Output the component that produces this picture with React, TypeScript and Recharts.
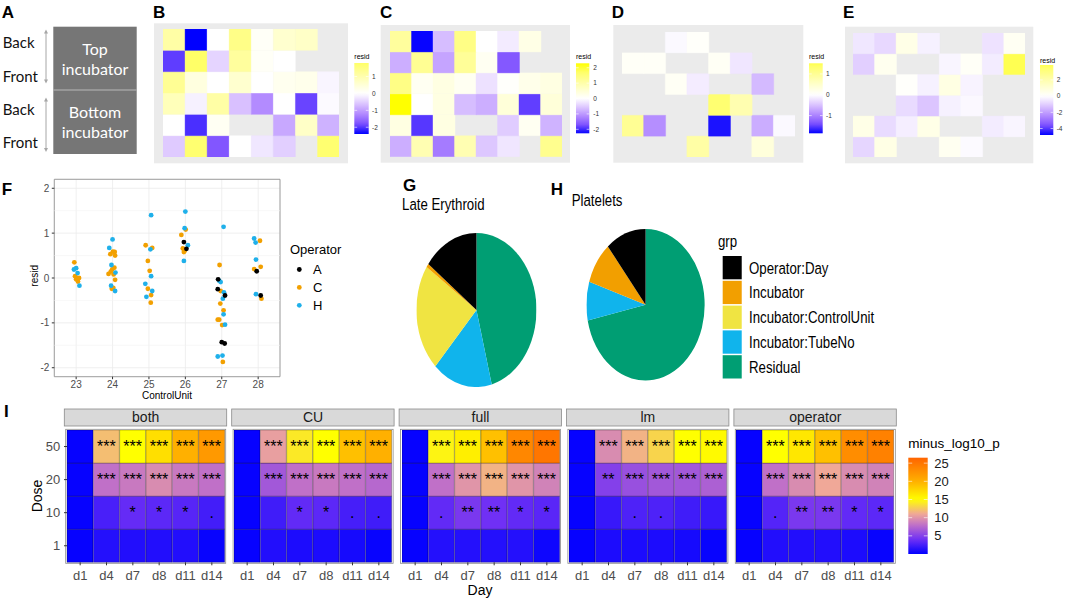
import {
  Bar,
  BarChart,
  CartesianGrid,
  Cell,
  LabelList,
  Pie,
  PieChart,
  ReferenceArea,
  ReferenceLine,
  Scatter,
  ScatterChart,
  XAxis,
  YAxis,
} from "recharts";

const FONT = '"Liberation Sans", Arial, sans-serif';
const AXIS_GREY = "#4d4d4d";
const PANEL_BG = "#ebebeb";

// ---- B-E: residual per tube position, rows back->front, null = no tube
const POSITIONS = ["1", "2", "3", "4", "5", "6", "7", "8"];

const RESID_B = [
  [1.1, -2.4, 0.0, 1.45, 0.1, 0.6, 0.7, null],
  [-1.95, 1.8, -0.45, 1.2, 0.1, 0.0, null, null],
  [1.3, 0.4, 0.0, 0.6, 0.0, 0.2, 0.25, -0.1],
  [0.85, -0.15, 1.1, -0.65, -1.2, 0.0, -1.9, -0.05],
  [0.0, -2.05, 0.15, null, null, -0.9, 0.7, -0.8],
  [-0.55, 1.7, -1.75, 0.0, -0.25, -0.5, null, 1.7],
];
const RESID_C = [
  [1.15, -2.26, -0.65, 1.4, 0.0, -0.2, 0.3, null],
  [-0.8, 1.25, -0.9, 1.2, 0.15, -1.65, null, null],
  [1.4, 0.15, 0.35, 0.15, -0.3, 0.05, 0.25, 0.35],
  [2.29, 0.0, 0.35, -0.65, -0.8, 0.45, -1.85, 0.45],
  [0.35, -1.9, 0.35, null, null, -0.5, 0.15, -0.75],
  [-0.8, 0.9, -1.3, 0.9, -0.55, -0.25, null, 1.3],
];
const RESID_D = [
  [null, null, -0.05, 0.05, null, null, null, null],
  [0.08, 0.08, null, null, 0.1, -0.2, null, null],
  [null, null, 0.1, -0.15, null, null, -0.55, null],
  [null, null, null, null, 1.3, 0.75, null, null],
  [1.0, -0.9, null, null, -1.75, null, -0.65, -0.05],
  [null, null, null, 0.85, null, null, 0.35, null],
];
const RESID_E = [
  [-0.5, -0.8, 0.6, -0.3, null, null, -0.6, 0.3],
  [-1.0, 0.4, null, null, -0.2, 0.2, -0.4, 3.85],
  [null, null, 0.1, -0.3, 0.7, -0.25, null, null],
  [null, null, -0.75, -1.2, -0.3, -0.15, null, null],
  [0.6, -0.75, -0.35, 0.6, null, null, -0.4, -0.2],
  [-0.85, 0.65, null, null, 0.35, -0.1, null, null],
];

const RANGE_B = [-2.4, 1.8];
const RANGE_C = [-2.26, 2.29];
const RANGE_D = [-1.85, 1.51];
const RANGE_E = [-4.8, 3.85];
const TICKS_B = [1, 0, -1, -2];
const TICKS_C = [2, 1, 0, -1, -2];
const TICKS_D = [1, 0, -1];
const TICKS_E = [2, 0, -2, -4];

// ---- F: residual by control unit (x jittered)
const CONTROL_UNITS = [23, 24, 25, 26, 27, 28];
const RESID_TICKS = [-2, -1, 0, 1, 2];
const RESID_MINOR = [-1.5, -0.5, 0.5, 1.5];

const OP_A = [
  { cu: 25.96, resid: 0.8 }, { cu: 26.03, resid: 0.65 },
  { cu: 26.9, resid: -0.03 }, { cu: 26.89, resid: -0.25 }, { cu: 27.09, resid: -0.39 },
  { cu: 27.0, resid: -1.43 }, { cu: 27.08, resid: -1.46 },
  { cu: 27.96, resid: 0.15 }, { cu: 28.07, resid: -0.39 },
];
const OP_C = [
  { cu: 22.95, resid: 0.35 }, { cu: 22.97, resid: 0.04 }, { cu: 23.02, resid: 0.0 },
  { cu: 23.08, resid: 0.0 }, { cu: 23.05, resid: -0.08 }, { cu: 23.0, resid: -0.03 },
  { cu: 24.01, resid: 0.59 }, { cu: 23.94, resid: 0.53 }, { cu: 24.06, resid: 0.58 },
  { cu: 24.07, resid: 0.5 }, { cu: 24.05, resid: 0.23 }, { cu: 23.99, resid: 0.19 },
  { cu: 23.89, resid: 0.09 }, { cu: 23.95, resid: 0.14 }, { cu: 24.03, resid: 0.08 },
  { cu: 24.07, resid: -0.04 }, { cu: 24.02, resid: -0.22 }, { cu: 23.98, resid: -0.24 },
  { cu: 24.91, resid: 0.73 }, { cu: 25.09, resid: 0.67 }, { cu: 24.97, resid: 0.38 },
  { cu: 25.02, resid: 0.16 }, { cu: 24.97, resid: -0.24 }, { cu: 25.06, resid: -0.38 },
  { cu: 25.05, resid: -0.55 },
  { cu: 26.01, resid: 1.08 }, { cu: 25.89, resid: 0.96 }, { cu: 25.93, resid: 0.66 },
  { cu: 25.98, resid: 0.61 }, { cu: 25.96, resid: 0.58 },
  { cu: 26.94, resid: 0.29 }, { cu: 26.97, resid: -0.29 }, { cu: 26.96, resid: -0.57 },
  { cu: 27.05, resid: -0.72 }, { cu: 26.89, resid: -0.93 }, { cu: 26.93, resid: -0.93 },
  { cu: 27.01, resid: -1.05 }, { cu: 27.03, resid: -1.87 },
  { cu: 28.05, resid: 0.83 }, { cu: 28.07, resid: 0.25 }, { cu: 27.89, resid: 0.2 },
  { cu: 28.09, resid: -0.46 },
];
const OP_H = [
  { cu: 22.94, resid: 0.19 }, { cu: 23.0, resid: 0.22 }, { cu: 23.04, resid: 0.11 },
  { cu: 23.09, resid: -0.17 },
  { cu: 24.0, resid: 0.86 }, { cu: 23.91, resid: 0.67 }, { cu: 23.97, resid: 0.29 },
  { cu: 24.08, resid: 0.12 }, { cu: 23.96, resid: -0.17 }, { cu: 24.07, resid: -0.29 },
  { cu: 25.06, resid: 1.4 }, { cu: 25.04, resid: 0.64 }, { cu: 25.06, resid: 0.04 },
  { cu: 24.9, resid: -0.13 }, { cu: 25.09, resid: -0.29 }, { cu: 24.93, resid: -0.42 },
  { cu: 26.0, resid: 1.48 }, { cu: 25.98, resid: 1.11 }, { cu: 26.07, resid: 0.73 },
  { cu: 25.96, resid: 0.38 },
  { cu: 27.05, resid: 1.14 }, { cu: 26.93, resid: -0.06 }, { cu: 26.97, resid: -0.09 },
  { cu: 27.06, resid: -0.32 }, { cu: 27.03, resid: -0.46 }, { cu: 27.05, resid: -0.81 },
  { cu: 27.09, resid: -1.04 }, { cu: 26.89, resid: -1.75 }, { cu: 27.02, resid: -1.73 },
  { cu: 27.89, resid: 0.88 }, { cu: 27.93, resid: 0.79 }, { cu: 27.94, resid: 0.41 },
  { cu: 27.94, resid: -0.36 },
];
const OPERATORS = ["A", "C", "H"];
const OPERATOR_COLORS = ["#000000", "#F2A000", "#1FB0EA"];

// ---- G/H: variance components (%)
const GROUPS = ["Operator:Day", "Incubator", "Incubator:ControlUnit", "Incubator:TubeNo", "Residual"];
const GROUP_COLORS = ["#000000", "#F29F00", "#F0E442", "#10B4EC", "#009E73"];
const LATE_ERYTHROID = [14.8, 0.8, 22.4, 16.1, 45.9];
const PLATELETS = [11.0, 9.1, 0, 8.2, 71.7];

// ---- I: -log10 p by model, rows dose 50/20/10/1, columns day
const DAYS = ["d1", "d4", "d7", "d8", "d11", "d14"];
const DOSES = ["50", "20", "10", "1"];
const MODELS = ["both", "CU", "full", "lm", "operator"];
const P_BOTH = [
  [0.2, 12, 15, 17, 20, 22],
  [0.2, 8, 8.5, 9.5, 8.5, 8],
  [0.2, 2.6, 3.6, 3.3, 3.1, 2.4],
  [0.2, 1.3, 1.2, 1.2, 1.2, 0.3],
];
const P_CU = [
  [0.2, 10.5, 14, 15, 19, 20],
  [0.2, 6.5, 8, 8.5, 8, 7.5],
  [0.2, 2.3, 3.5, 3.3, 2.5, 2.3],
  [0.2, 1.2, 1, 1, 0.8, 0.3],
];
const P_FULL = [
  [0.2, 14.5, 16, 19, 23.5, 25],
  [0.2, 8, 10, 11.5, 10, 9],
  [0.2, 3.5, 4.5, 4, 3.5, 3.2],
  [0.2, 1.3, 1.3, 1.3, 1.3, 0.5],
];
const P_LM = [
  [0.2, 9.5, 11.5, 13, 15, 15.3],
  [0.2, 5, 6, 6.5, 6.5, 7],
  [0.2, 2, 2.8, 2.8, 2.3, 2.0],
  [0.2, 1, 1, 1, 0.8, 0.3],
];
const P_OPERATOR = [
  [0.2, 15, 16.5, 19, 23, 24],
  [0.2, 8, 9.5, 11, 9.5, 9],
  [0.2, 3, 4.5, 4.5, 3.5, 3.3],
  [0.2, 1.2, 1.2, 1.2, 1.0, 0.3],
];
const STARS_BOTH = [
  ["", "***", "***", "***", "***", "***"],
  ["", "***", "***", "***", "***", "***"],
  ["", "", "*", "*", "*", "."],
  ["", "", "", "", "", ""],
];
const STARS_CU = [
  ["", "***", "***", "***", "***", "***"],
  ["", "***", "***", "***", "***", "***"],
  ["", "", "*", "*", ".", "."],
  ["", "", "", "", "", ""],
];
const STARS_FULL = [
  ["", "***", "***", "***", "***", "***"],
  ["", "***", "***", "***", "***", "***"],
  ["", ".", "**", "**", "*", "*"],
  ["", "", "", "", "", ""],
];
const STARS_LM = [
  ["", "***", "***", "***", "***", "***"],
  ["", "**", "***", "***", "***", "***"],
  ["", "", ".", ".", "", ""],
  ["", "", "", "", "", ""],
];
const STARS_OPERATOR = STARS_FULL;
const P_RANGE = [0, 26.5];
const P_TICKS = [25, 20, 15, 10, 5];

// ---- colour scales
function hexRgb(h: string) {
  const n = parseInt(h.slice(1), 16);
  return [n >> 16, (n >> 8) & 255, n & 255];
}
function ramp(stops: [number, string][], v: number) {
  if (v <= stops[0][0]) return stops[0][1];
  for (let i = 1; i < stops.length; i++) {
    if (v <= stops[i][0]) {
      const t = (v - stops[i - 1][0]) / (stops[i][0] - stops[i - 1][0]);
      const a = hexRgb(stops[i - 1][1]);
      const b = hexRgb(stops[i][1]);
      return `rgb(${a.map((c, k) => Math.round(c + (b[k] - c) * t)).join(",")})`;
    }
  }
  return stops[stops.length - 1][1];
}
const RESID_STOPS: [number, string][] = [
  [-1, "#0000ff"], [-0.75, "#7e51ff"], [-0.5, "#b38bff"], [-0.25, "#dcc5ff"],
  [0, "#ffffff"], [0.25, "#ffffcf"], [0.5, "#fffe9d"], [0.75, "#ffff67"], [1, "#ffff00"],
];
const P_STOPS: [number, string][] = [
  [0, "#0000ff"], [4, "#7030f5"], [8, "#c070c8"], [11, "#f0a898"],
  [15, "#ffff00"], [20, "#ffb000"], [26.5, "#ff6400"],
];
const residScale = (range: number[]) => {
  const m = Math.max(Math.abs(range[0]), Math.abs(range[1]));
  return (v: number) => ramp(RESID_STOPS, v / m);
};
const pColor = (v: number) => ramp(P_STOPS, v);

// ---- layout
const TILE_PANELS = [
  { letter: "B", lx: 153, rows: RESID_B, range: RANGE_B, ticks: TICKS_B, bg: [154, 23.3, 194, 140], cells: [162.7, 29.3, 176.6, 128], bar: [354.3, 63, 14.4, 71], tx: 372, ty: 59 },
  { letter: "C", lx: 380, rows: RESID_C, range: RANGE_C, ticks: TICKS_C, bg: [380.7, 25, 189.3, 137.7], cells: [390, 31, 172, 125.7], bar: [576, 63.3, 13.3, 70], tx: 593.3, ty: 59.3 },
  { letter: "D", lx: 611.7, rows: RESID_D, range: RANGE_D, ticks: TICKS_D, bg: [613.3, 25, 190, 137.7], cells: [622, 31.7, 173, 125], bar: [809, 63.3, 13.7, 70], tx: 826, ty: 59.3 },
  { letter: "E", lx: 843, rows: RESID_E, range: RANGE_E, ticks: TICKS_E, bg: [845, 26.7, 188.3, 136.6], cells: [852.7, 32.7, 172.3, 124.6], bar: [1040, 65, 13.3, 70], tx: 1056.7, ty: 62.7 },
];
const FACET_X0 = 66.7;
const FACET_STEP = 167.4;
const FACET_W = 158;
const FACET_TOP = 430;
const FACET_H = 132.3;
const GH_SCALE = 0.78;

function ResidTiles({ rows, range, cells }: any) {
  const color = residScale(range);
  const data = POSITIONS.map((p) => {
    const o: Record<string, string | number> = { pos: p };
    rows.forEach((_: any, i: number) => (o[`r${i}`] = 1));
    return o;
  });
  const stack = rows.map((_: any, i: number) => rows.length - 1 - i);
  return (
    <div style={{ position: "absolute", left: cells[0], top: cells[1] }}>
      <BarChart width={cells[2]} height={cells[3]} data={data} margin={{ top: 0, right: 0, bottom: 0, left: 0 }} barCategoryGap={0}>
        <XAxis dataKey="pos" hide />
        <YAxis type="number" domain={[0, rows.length]} hide />
        {stack.map((i: number) => (
          <Bar key={i} dataKey={`r${i}`} stackId="t" isAnimationActive={false}>
            {rows[i].map((v: number | null, j: number) => {
              const c = v === null ? "none" : color(v);
              return <Cell key={j} fill={c} stroke={c} strokeWidth={0.4} />;
            })}
          </Bar>
        ))}
      </BarChart>
    </div>
  );
}

function ColorBar({ id, x, y, w, h, lo, hi, color, ticks, labelX, fontSize, fill }: any) {
  const n = 24;
  const yOf = (v: number) => y + ((hi - v) / (hi - lo)) * h;
  return (
    <g>
      <defs>
        <linearGradient id={id} x1="0" y1="1" x2="0" y2="0">
          {Array.from({ length: n + 1 }, (_, k) => (
            <stop key={k} offset={k / n} stopColor={color(lo + ((hi - lo) * k) / n)} />
          ))}
        </linearGradient>
      </defs>
      <rect x={x} y={y} width={w} height={h} fill={`url(#${id})`} />
      {ticks.map((t: number) => (
        <g key={t}>
          <line x1={x} x2={x + w / 5} y1={yOf(t)} y2={yOf(t)} stroke="#fff" strokeWidth={0.6} />
          <line x1={x + (w * 4) / 5} x2={x + w} y1={yOf(t)} y2={yOf(t)} stroke="#fff" strokeWidth={0.6} />
          <text x={labelX} y={yOf(t)} dy="0.35em" fontSize={fontSize} fill={fill}>
            {t}
          </text>
        </g>
      ))}
    </g>
  );
}

function DoseFacet({ values, stars, index }: any) {
  const first = index === 0;
  const axisW = first ? 40 : 0;
  const left = FACET_X0 + FACET_STEP * index - axisW;
  const data = DAYS.map((d, j) => {
    const o: Record<string, string | number> = { day: d };
    values.forEach((_: any, i: number) => {
      o[`r${i}`] = 1;
      o[`s${i}`] = stars[i][j];
    });
    return o;
  });
  const stack = [3, 2, 1, 0];
  return (
    <div style={{ position: "absolute", left, top: FACET_TOP }}>
      <BarChart width={FACET_W + axisW} height={FACET_H + 22} data={data} margin={{ top: 0, right: 0, bottom: 0, left: 0 }} barCategoryGap={0}>
        <XAxis
          dataKey="day"
          interval={0}
          height={22}
          tickSize={3}
          tickMargin={5.5}
          axisLine={false}
          tickLine={{ stroke: "#333" }}
          tick={{ fill: AXIS_GREY, fontSize: 13, fontFamily: FONT }}
        />
        <YAxis
          type="number"
          domain={[0, 4]}
          ticks={[0.5, 1.5, 2.5, 3.5]}
          interval={0}
          hide={!first}
          width={axisW}
          tickSize={3}
          tickMargin={3.7}
          axisLine={false}
          tickLine={{ stroke: "#333" }}
          tickFormatter={(v: number) => DOSES[3 - Math.floor(v)]}
          tick={{ fill: AXIS_GREY, fontSize: 13, fontFamily: FONT }}
        />
        {stack.map((i) => (
          <Bar key={i} dataKey={`r${i}`} stackId="d" isAnimationActive={false}>
            {values[i].map((v: number, j: number) => (
              <Cell key={j} fill={pColor(v)} stroke="rgba(0,0,0,0.35)" strokeWidth={0.7} />
            ))}
            <LabelList dataKey={`s${i}`} position="center" fill="#000" fontSize={16} fontFamily={FONT} />
          </Bar>
        ))}
      </BarChart>
    </div>
  );
}

function VariancePie({ values, left, top, r }: any) {
  const data = GROUPS.map((g, i) => ({ grp: g, value: values[i], fill: GROUP_COLORS[i] })).reverse();
  return (
    <div style={{ position: "absolute", left, top }}>
      <PieChart width={2 * r} height={2 * r} margin={{ top: 0, right: 0, bottom: 0, left: 0 }}>
        <Pie
          data={data}
          dataKey="value"
          nameKey="grp"
          cx="50%"
          cy="50%"
          outerRadius={r}
          startAngle={90}
          endAngle={-270}
          stroke="none"
          isAnimationActive={false}
        >
          {data.map((d) => (
            <Cell key={d.grp} fill={d.fill} />
          ))}
        </Pie>
      </PieChart>
    </div>
  );
}

const FACETS = [
  { values: P_BOTH, stars: STARS_BOTH },
  { values: P_CU, stars: STARS_CU },
  { values: P_FULL, stars: STARS_FULL },
  { values: P_LM, stars: STARS_LM },
  { values: P_OPERATOR, stars: STARS_OPERATOR },
];
const OPERATOR_POINTS = [OP_A, OP_C, OP_H];

export default function App() {
  const letter = (t: string, x: number, y: number) => (
    <text x={x} y={y} fontSize={17} fontWeight="bold" fill="#000">
      {t}
    </text>
  );
  const arrow = (y1: number, y2: number) => (
    <g>
      <line x1={46} x2={46} y1={y1 + 2} y2={y2 - 2} stroke="#a6a6a6" strokeWidth={1} />
      <polygon points={`46,${y1} 44,${y1 + 4} 48,${y1 + 4}`} fill="#a6a6a6" />
      <polygon points={`46,${y2} 44,${y2 - 4} 48,${y2 - 4}`} fill="#a6a6a6" />
    </g>
  );

  return (
    <div style={{ position: "absolute", left: 0, top: 0, width: 1065, height: 600, background: "#fff", fontFamily: FONT, overflow: "hidden" }}>
      <svg width={1065} height={600} style={{ position: "absolute", left: 0, top: 0 }} fontFamily={FONT}>
        {/* A: incubator sketch */}
        {letter("A", 1.7, 18.3)}
        <rect x={53.3} y={26.7} width={83.4} height={127.3} fill="#767676" />
        <line x1={53.3} x2={136.7} y1={90} y2={90} stroke="#b8b8b8" strokeWidth={1} />
        <g fontFamily="Lato" fill="#fff" fontSize={16} textAnchor="middle">
          <text x={95} y={55}>Top</text>
          <text x={95} y={75}>incubator</text>
          <text x={95} y={118.3}>Bottom</text>
          <text x={95} y={138.3}>incubator</text>
        </g>
        <g fontFamily="Lato" fill="#111" fontSize={15}>
          <text x={2.7} y={48.3}>Back</text>
          <text x={2.7} y={81.7}>Front</text>
          <text x={2.7} y={115}>Back</text>
          <text x={2.7} y={148.3}>Front</text>
        </g>
        {arrow(29.5, 83.5)}
        {arrow(97.5, 152)}

        {/* B-E backgrounds and legends */}
        {TILE_PANELS.map((p) => (
          <g key={p.letter}>
            {letter(p.letter, p.lx, 17.5)}
            <rect x={p.bg[0]} y={p.bg[1]} width={p.bg[2]} height={p.bg[3]} fill={PANEL_BG} />
            <text x={p.bar[0]} y={p.ty} fontSize={7} fill="#000">
              resid
            </text>
            <ColorBar
              id={`cb${p.letter}`}
              x={p.bar[0]}
              y={p.bar[1]}
              w={p.bar[2]}
              h={p.bar[3]}
              lo={p.range[0]}
              hi={p.range[1]}
              color={residScale(p.range)}
              ticks={p.ticks}
              labelX={p.tx}
              fontSize={6.5}
              fill="#333"
            />
          </g>
        ))}

        {/* F labels and legend */}
        {letter("F", 1.7, 195)}
        <text transform="translate(37.5,275.8) rotate(-90)" textAnchor="middle" fontSize={10} fill="#000">
          resid
        </text>
        <text x={167} y={399} textAnchor="middle" fontSize={10} fill="#000">
          ControlUnit
        </text>
        <text x={290} y={254} fontSize={13} fill="#000">
          Operator
        </text>
        {OPERATORS.map((o, i) => (
          <g key={o}>
            <circle cx={299.3} cy={269.5 + 17.9 * i} r={2.4} fill={OPERATOR_COLORS[i]} />
            <text x={313} y={269.5 + 17.9 * i} dy="0.35em" fontSize={13} fill="#000">
              {o}
            </text>
          </g>
        ))}

        {/* G / H text and legend (horizontally squeezed like the source) */}
        {letter("G", 403, 191)}
        {letter("H", 550.7, 195)}
        <g transform={`translate(400,0) scale(${GH_SCALE},1)`} fill="#000">
          <text x={2.6} y={210} fontSize={17}>
            Late Erythroid
          </text>
          <text x={220.1} y={206} fontSize={17}>
            Platelets
          </text>
          <text x={407.7} y={247} fontSize={17}>
            grp
          </text>
          {GROUPS.map((g, i) => (
            <g key={g}>
              <rect x={413.7} y={256 + 24.8 * i} width={24.4} height={23.3} fill={GROUP_COLORS[i]} />
              <text x={447.4} y={256 + 24.8 * i + 11.6} dy="0.35em" fontSize={17}>
                {g}
              </text>
            </g>
          ))}
        </g>

        {/* I strips, frames, titles, legend */}
        {letter("I", 4, 416.7)}
        {MODELS.map((m, k) => {
          const x = FACET_X0 + FACET_STEP * k;
          return (
            <g key={m}>
              <rect x={x - 2.4} y={409} width={162.4} height={17} fill="#d9d9d9" stroke="#8a8a8a" strokeWidth={0.8} />
              <text x={x + 79} y={422.3} textAnchor="middle" fontSize={14} fill="#1a1a1a">
                {m}
              </text>
              <rect x={x - 1} y={429.3} width={FACET_W + 2} height={134} fill="none" stroke="#8a8a8a" strokeWidth={0.8} />
            </g>
          );
        })}
        <text transform="translate(41.5,496) rotate(-90)" textAnchor="middle" fontSize={14} fill="#000">
          Dose
        </text>
        <text x={480} y={595} textAnchor="middle" fontSize={14} fill="#000">
          Day
        </text>
        <text x={908.3} y={448} fontSize={13.5} fill="#000">
          minus_log10_p
        </text>
        <ColorBar
          id="cbI"
          x={908.3}
          y={457.7}
          w={19.4}
          h={96.3}
          lo={P_RANGE[0]}
          hi={P_RANGE[1]}
          color={pColor}
          ticks={P_TICKS}
          labelX={934.3}
          fontSize={13}
          fill="#1a1a1a"
        />
      </svg>

      {TILE_PANELS.map((p) => (
        <ResidTiles key={p.letter} rows={p.rows} range={p.range} cells={p.cells} />
      ))}

      <div style={{ position: "absolute", left: 0, top: 170 }}>
        <ScatterChart width={290} height={232} margin={{ top: 9.3, right: 10, bottom: 0, left: 0 }}>
          <CartesianGrid stroke="#ebebeb" strokeWidth={0.8} />
          {RESID_MINOR.map((v) => (
            <ReferenceLine key={v} y={v} stroke="#f3f3f3" strokeWidth={0.6} />
          ))}
          <XAxis
            type="number"
            dataKey="cu"
            domain={[22.4, 28.6]}
            ticks={CONTROL_UNITS}
            interval={0}
            height={25.3}
            tickSize={2.5}
            tickMargin={1.5}
            axisLine={false}
            tickLine={{ stroke: "#333" }}
            tick={{ fill: AXIS_GREY, fontSize: 10, fontFamily: FONT }}
          />
          <YAxis
            type="number"
            dataKey="resid"
            domain={[-2.2, 2.2]}
            ticks={RESID_TICKS}
            interval={0}
            width={54.3}
            tickSize={2.5}
            tickMargin={2.5}
            axisLine={false}
            tickLine={{ stroke: "#333" }}
            tick={{ fill: AXIS_GREY, fontSize: 10, fontFamily: FONT }}
          />
          <ReferenceArea x1={22.4} x2={28.6} y1={-2.2} y2={2.2} fill="none" stroke="#8c8c8c" strokeWidth={0.8} />
          {[1, 2, 0].map((i) => (
            <Scatter
              key={OPERATORS[i]}
              name={OPERATORS[i]}
              data={OPERATOR_POINTS[i]}
              isAnimationActive={false}
              shape={(p: any) => <circle cx={p.cx} cy={p.cy} r={2.4} fill={OPERATOR_COLORS[i]} />}
            />
          ))}
        </ScatterChart>
      </div>

      <div style={{ position: "absolute", left: 400, top: 0, width: 850, height: 400, transform: `scaleX(${GH_SCALE})`, transformOrigin: "0 0" }}>
        <VariancePie values={LATE_ERYTHROID} left={20.8} top={232.7} r={77} />
        <VariancePie values={PLATELETS} left={239.3} top={229} r={75.8} />
      </div>

      {FACETS.map((f, k) => (
        <DoseFacet key={MODELS[k]} values={f.values} stars={f.stars} index={k} />
      ))}
    </div>
  );
}
